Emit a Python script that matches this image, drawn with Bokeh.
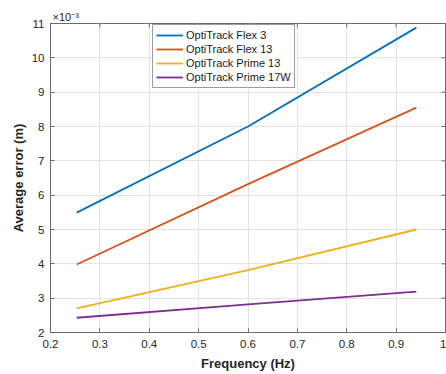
from bokeh.plotting import figure
from bokeh.models import Range1d, FixedTicker, Legend, LegendItem
from bokeh.embed import file_html
from bokeh.resources import INLINE

# Data (average error in units of 1e-3 m)
freq = [0.253, 0.6, 0.941]
flex3 = [5.49, 8.0, 10.88]
flex13 = [3.98, 6.32, 8.55]
prime13 = [2.70, 3.82, 5.00]
prime17w = [2.43, 2.82, 3.19]

series_names = ["OptiTrack Flex 3", "OptiTrack Flex 13", "OptiTrack Prime 13", "OptiTrack Prime 17W"]
series_vals = [flex3, flex13, prime13, prime17w]
colors = ["#0072BD", "#D95319", "#EDB120", "#7E2F8E"]

x_ticks = [0.2, 0.3, 0.4, 0.5, 0.6, 0.7, 0.8, 0.9, 1.0]
y_ticks = [2, 3, 4, 5, 6, 7, 8, 9, 10, 11]
x_min, x_max = 0.2, 1.0
y_min, y_max = 2, 11

FONT = "Liberation Sans"
TXT = "#262626"
AX = "#6b6b6b"

W, H = 446, 374
BL, BR, BT, BB = 50, 1, 23, 42
frame_w = W - BL - BR
frame_h = H - BT - BB
TICK = 4

p = figure(width=W, height=H, output_backend="svg", toolbar_location=None,
           x_range=Range1d(x_min, x_max), y_range=Range1d(y_min, y_max),
           min_border_left=BL, min_border_right=BR, min_border_top=BT, min_border_bottom=BB)
p.background_fill_color = "white"
p.border_fill_color = "white"
p.outline_line_color = AX
p.outline_line_width = 1

# multiplier as title
p.title.text = "×10⁻³"
p.title.align = "left"
p.title.offset = 2
p.title.standoff = 2
p.title.text_font = FONT
p.title.text_font_size = "11px"
p.title.text_font_style = "normal"
p.title.text_color = TXT

for ax in (p.xaxis[0], p.yaxis[0]):
    ax.major_tick_in = TICK
    ax.major_tick_out = 0
    ax.minor_tick_line_color = None
    ax.axis_line_color = AX
    ax.major_tick_line_color = AX
    ax.major_label_text_font = FONT
    ax.major_label_text_font_size = "11.5px"
    ax.major_label_text_color = TXT
    ax.axis_label_text_font = FONT
    ax.axis_label_text_font_size = "13px"
    ax.axis_label_text_font_style = "bold"
    ax.axis_label_text_color = TXT

p.xaxis.ticker = FixedTicker(ticks=x_ticks)
p.xaxis.major_label_overrides = {1.0: "1"}
p.yaxis.ticker = FixedTicker(ticks=y_ticks)
p.xaxis.axis_label = "Frequency (Hz)"
p.yaxis.axis_label = "Average error (m)"
p.xaxis.major_label_standoff = 7
p.xaxis.axis_label_standoff = 5
p.yaxis.major_label_standoff = 6
p.yaxis.axis_label_standoff = 3

p.grid.grid_line_color = "#e3e3e3"
p.grid.grid_line_width = 1
p.xgrid.ticker = FixedTicker(ticks=x_ticks)
p.ygrid.ticker = FixedTicker(ticks=y_ticks)

# tick marks on the top and right edges (box on)
dy = (y_max - y_min) * TICK / frame_h
dx = (x_max - x_min) * TICK / frame_w
p.segment(x0=x_ticks, y0=[y_max] * len(x_ticks), x1=x_ticks, y1=[y_max - dy] * len(x_ticks),
          line_color=AX, line_width=1)
p.segment(x0=[x_max] * len(y_ticks), y0=y_ticks, x1=[x_max - dx] * len(y_ticks), y1=y_ticks,
          line_color=AX, line_width=1)

items = []
for name, vals, c in zip(series_names, series_vals, colors):
    r = p.line(freq, vals, line_color=c, line_width=1.8)
    items.append(LegendItem(label=name, renderers=[r]))

legend = Legend(items=items, location=(102, 244), orientation="vertical",
                label_text_font=FONT, label_text_font_size="11px", label_text_color="#1a1a1a",
                label_height=14, glyph_height=14, glyph_width=27, label_standoff=3,
                spacing=0, padding=3, margin=0,
                border_line_color="#3a3a3a", border_line_width=1,
                background_fill_color="white", background_fill_alpha=1)
p.add_layout(legend, "center")

open("out.html", "w").write(file_html(p, INLINE))
